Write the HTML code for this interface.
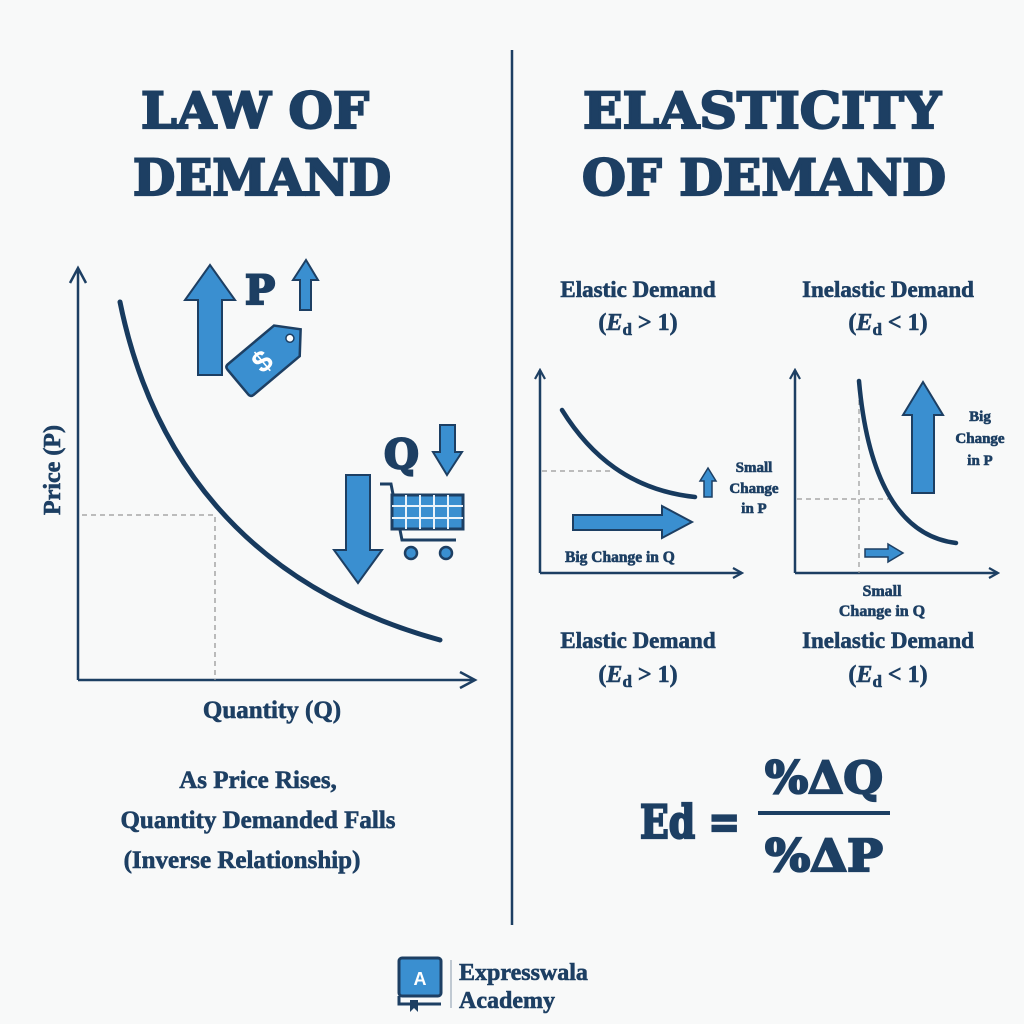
<!DOCTYPE html>
<html><head><meta charset="utf-8"><style>
html,body{margin:0;padding:0;background:#f8f9f9;}
svg{display:block;}
.t{font-family:"DejaVu Serif","Liberation Serif",serif;font-weight:bold;fill:#1d3f63;stroke:#1d3f63;stroke-width:2.2;}
.s{font-family:"Liberation Serif","DejaVu Serif",serif;font-weight:bold;fill:#1d3f63;}
.k{stroke:#1d3f63;stroke-width:0.6;}
</style></head><body>
<svg width="1024" height="1024" viewBox="0 0 1024 1024" xmlns="http://www.w3.org/2000/svg">
<defs>
<marker id="ah" viewBox="0 0 12 12" refX="10" refY="6" markerWidth="12" markerHeight="12" markerUnits="userSpaceOnUse" orient="auto">
<path d="M1,1 L10,6 L1,11" fill="none" stroke="#1d3f63" stroke-width="2.2"/></marker>
<marker id="ah2" viewBox="0 0 20 20" refX="17" refY="10" markerWidth="20" markerHeight="20" markerUnits="userSpaceOnUse" orient="auto">
<path d="M2,2 L17,10 L2,18" fill="none" stroke="#1d3f63" stroke-width="2.5"/></marker>
</defs>
<rect width="1024" height="1024" fill="#f8f9f9"/>
<line x1="512" y1="50" x2="512" y2="925" stroke="#1d3f63" stroke-width="2.5"/>

<text class="t" x="255" y="128" font-size="50" text-anchor="middle" textLength="228" lengthAdjust="spacingAndGlyphs">LAW OF</text>
<text class="t" x="262" y="195" font-size="50" text-anchor="middle" textLength="258" lengthAdjust="spacingAndGlyphs">DEMAND</text>
<text class="t" x="762" y="128" font-size="50" text-anchor="middle" textLength="358" lengthAdjust="spacingAndGlyphs">ELASTICITY</text>
<text class="t" x="764" y="195" font-size="50" text-anchor="middle" textLength="364" lengthAdjust="spacingAndGlyphs">OF DEMAND</text>

<line x1="78" y1="680" x2="78" y2="268" stroke="#1d3f63" stroke-width="2.5" marker-end="url(#ah2)"/>
<line x1="78" y1="680" x2="475" y2="680" stroke="#1d3f63" stroke-width="2.5" marker-end="url(#ah2)"/>
<path d="M82,515 H215 V680" fill="none" stroke="#999" stroke-width="1.3" stroke-dasharray="5,4"/>
<path d="M120,302 C150,450 240,585 440,640" fill="none" stroke="#173a5e" stroke-width="5" stroke-linecap="round"/>
<text class="s k" x="60" y="470" font-size="24" text-anchor="middle" transform="rotate(-90 60 470)">Price (P)</text>
<text class="s k" x="272" y="718" font-size="25" text-anchor="middle">Quantity (Q)</text>

<path d="M210,265 L235,300 L222,300 L222,375 L198,375 L198,300 L185,300 Z" fill="#3a8fd0" stroke="#1d3f63" stroke-width="2"/>
<text class="t" x="245" y="304" font-size="40">P</text>
<path d="M306,260 L318,280 L311,280 L311,310 L300,310 L300,280 L293,280 Z" fill="#3a8fd0" stroke="#1d3f63" stroke-width="2"/>
<g transform="translate(270,355) rotate(-40)">
<path d="M-38,-20 H22 L40,0 L22,20 H-38 Q-42,20 -42,16 V-16 Q-42,-20 -38,-20 Z" fill="#3a8fd0" stroke="#1d3f63" stroke-width="2.5"/>
<circle cx="26" cy="0" r="4" fill="#fff" stroke="#1d3f63" stroke-width="1.5"/>
<text x="-10" y="10" font-family="Liberation Sans,sans-serif" font-weight="bold" font-size="30" fill="#fff" text-anchor="middle">$</text>
</g>
<text class="t" x="384" y="468" font-size="40">Q</text>
<path d="M447,475 L462,452 L455,452 L455,425 L440,425 L440,452 L433,452 Z" fill="#3a8fd0" stroke="#1d3f63" stroke-width="2"/>
<path d="M358,583 L382,550 L370,550 L370,475 L346,475 L346,550 L334,550 Z" fill="#3a8fd0" stroke="#1d3f63" stroke-width="2"/>
<g stroke="#1d3f63" stroke-width="3" fill="none">
<path d="M380,484 H391 L402,540 H456"/>
<rect x="392" y="495" width="71" height="34" fill="#3a8fd0"/>
<path d="M392,506 H463 M392,518 H463 M406,495 V529 M420,495 V529 M434,495 V529 M448,495 V529" stroke="#eaf3fa" stroke-width="2"/>
</g>
<circle cx="411" cy="553" r="6" fill="#3a8fd0" stroke="#1d3f63" stroke-width="2.5"/>
<circle cx="446" cy="553" r="6" fill="#3a8fd0" stroke="#1d3f63" stroke-width="2.5"/>

<text class="s k" x="258" y="788" font-size="25" text-anchor="middle">As Price Rises,</text>
<text class="s k" x="258" y="828" font-size="25" text-anchor="middle">Quantity Demanded Falls</text>
<text class="s k" x="242" y="868" font-size="25" text-anchor="middle">(Inverse Relationship)</text>

<text class="s k" x="638" y="297" font-size="23" text-anchor="middle">Elastic Demand</text>
<text class="s k" x="638" y="330" font-size="24" text-anchor="middle">(<tspan font-style="italic">E</tspan><tspan font-size="17" dy="5">d</tspan><tspan dy="-5"> &gt; 1)</tspan></text>
<text class="s k" x="888" y="297" font-size="23" text-anchor="middle">Inelastic Demand</text>
<text class="s k" x="888" y="330" font-size="24" text-anchor="middle">(<tspan font-style="italic">E</tspan><tspan font-size="17" dy="5">d</tspan><tspan dy="-5"> &lt; 1)</tspan></text>

<line x1="540" y1="573" x2="540" y2="370" stroke="#1d3f63" stroke-width="2.5" marker-end="url(#ah)"/>
<line x1="540" y1="573" x2="742" y2="573" stroke="#1d3f63" stroke-width="2.5" marker-end="url(#ah)"/>
<line x1="542" y1="471" x2="612" y2="471" stroke="#999" stroke-width="1.2" stroke-dasharray="5,4"/>
<path d="M562,410 C590,455 630,490 695,497" fill="none" stroke="#173a5e" stroke-width="4.5" stroke-linecap="round"/>
<path d="M573,515 H662 V506 L692,522 L662,538 V530 H573 Z" fill="#3a8fd0" stroke="#1d3f63" stroke-width="2"/>
<path d="M708,468 L716,481 L712,481 L712,497 L704,497 L704,481 L700,481 Z" fill="#3a8fd0" stroke="#1d3f63" stroke-width="1.5"/>
<text class="s k" x="565" y="562" font-size="15.5">Big Change in Q</text>
<text class="s k" x="754" y="472" font-size="15" text-anchor="middle">Small</text>
<text class="s k" x="754" y="493" font-size="15" text-anchor="middle">Change</text>
<text class="s k" x="754" y="513" font-size="15" text-anchor="middle">in P</text>

<line x1="795" y1="573" x2="795" y2="370" stroke="#1d3f63" stroke-width="2.5" marker-end="url(#ah)"/>
<line x1="795" y1="573" x2="998" y2="573" stroke="#1d3f63" stroke-width="2.5" marker-end="url(#ah)"/>
<path d="M859,400 V573 M797,499 H890" fill="none" stroke="#999" stroke-width="1.2" stroke-dasharray="5,4"/>
<path d="M859,381 C866,460 890,535 956,543" fill="none" stroke="#173a5e" stroke-width="4.5" stroke-linecap="round"/>
<path d="M923,382 L943,415 L934,415 L934,493 L912,493 L912,415 L903,415 Z" fill="#3a8fd0" stroke="#1d3f63" stroke-width="2"/>
<path d="M865,549 H888 V544 L903,553 L888,562 V557 H865 Z" fill="#3a8fd0" stroke="#1d3f63" stroke-width="1.5"/>
<text class="s k" x="980" y="421" font-size="15" text-anchor="middle">Big</text>
<text class="s k" x="980" y="443" font-size="15" text-anchor="middle">Change</text>
<text class="s k" x="980" y="465" font-size="15" text-anchor="middle">in P</text>
<text class="s k" x="882" y="596" font-size="16" text-anchor="middle">Small</text>
<text class="s k" x="882" y="616" font-size="16" text-anchor="middle">Change in Q</text>

<text class="s k" x="638" y="648" font-size="23" text-anchor="middle">Elastic Demand</text>
<text class="s k" x="638" y="682" font-size="24" text-anchor="middle">(<tspan font-style="italic">E</tspan><tspan font-size="17" dy="5">d</tspan><tspan dy="-5"> &gt; 1)</tspan></text>
<text class="s k" x="888" y="648" font-size="23" text-anchor="middle">Inelastic Demand</text>
<text class="s k" x="888" y="682" font-size="24" text-anchor="middle">(<tspan font-style="italic">E</tspan><tspan font-size="17" dy="5">d</tspan><tspan dy="-5"> &lt; 1)</tspan></text>

<text class="t" x="640" y="838" font-size="46" textLength="100" lengthAdjust="spacingAndGlyphs">Ed =</text>
<line x1="758" y1="813" x2="890" y2="813" stroke="#1d3f63" stroke-width="4"/>
<text class="t" x="824" y="793" font-size="44" text-anchor="middle" textLength="118" lengthAdjust="spacingAndGlyphs">%ΔQ</text>
<text class="t" x="824" y="871" font-size="44" text-anchor="middle" textLength="118" lengthAdjust="spacingAndGlyphs">%ΔP</text>

<rect x="399" y="958" width="42" height="38" rx="3" fill="#3a8fd0" stroke="#1d3f63" stroke-width="3"/>
<path d="M399,996 V1004 H441" fill="none" stroke="#1d3f63" stroke-width="3"/>
<path d="M410,1000 V1012 L414,1008 L418,1012 V1000 Z" fill="#1d3f63"/>
<text x="420" y="985" font-family="Liberation Sans,sans-serif" font-weight="bold" font-size="18" fill="#fff" text-anchor="middle">A</text>
<line x1="451" y1="960" x2="451" y2="1008" stroke="#8899aa" stroke-width="1"/>
<text class="s k" x="459" y="980" font-size="24">Expresswala</text>
<text class="s k" x="459" y="1008" font-size="24">Academy</text>
</svg>
</body></html>
